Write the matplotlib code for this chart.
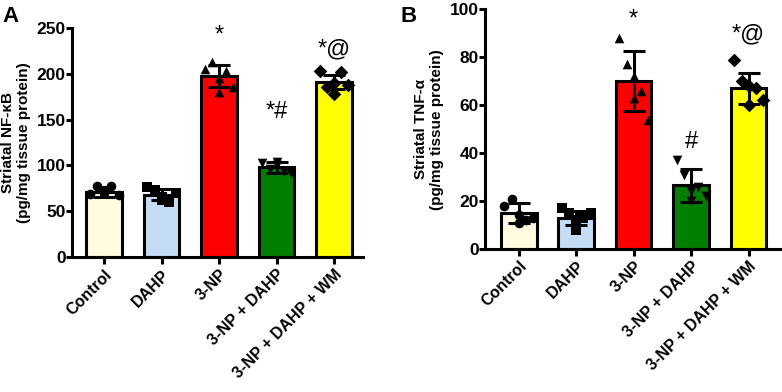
import matplotlib
matplotlib.use("Agg")
import matplotlib.pyplot as plt
import numpy as np

plt.rcParams['font.family'] = ['Liberation Sans', 'DejaVu Sans']

groups = ["Control", "DAHP", "3-NP", "3-NP + DAHP", "3-NP + DAHP + WM"]
colors = ["#FFFCE0", "#C4DDF4", "#FF0000", "#007F00", "#FFFF00"]
markers = ["o", "s", "^", "v", "D"]

# Panel A: NF-kB
nfkb_means = [71, 68, 197, 98, 191]
nfkb_sd = [5, 6, 12, 6, 8]
nfkb_points = [
    [69, 78, 72, 70, 78, 68],
    [77, 73, 62, 66, 60, 70],
    [205, 213, 180, 195, 203, 185],
    [103, 96, 100, 104, 94, 92],
    [203, 185, 190, 178, 202, 188],
]
nfkb_annot = ["", "", "*", "*#", "*@"]

# Panel B: TNF-alpha
tnf_means = [15, 13, 70, 26.5, 67]
tnf_sd = [4, 3, 12.5, 7, 6.5]
tnf_points = [
    [18, 21, 11, 14, 12, 13],
    [17, 15, 8, 12, 13, 15],
    [88, 77, 72, 63, 66, 54],
    [37, 31, 24, 20, 26, 22],
    [79, 70, 68, 60, 67, 62],
]
tnf_annot = ["", "", "*", "#", "*@"]

fig = plt.figure(figsize=(7.82, 3.92), dpi=100)
axA = fig.add_axes([0.092, 0.344, 0.372, 0.585])
axB = fig.add_axes([0.620, 0.365, 0.377, 0.611])

offsets = [-0.25, -0.12, 0.0, 0.0, 0.12, 0.25]

def draw(ax, means, sds, pts, annots, ylim, yticks, ylabel, annot_y, xl):
    x = np.arange(len(groups))
    ax.bar(x, means, width=0.62, color=colors, edgecolor="black", linewidth=2.2, zorder=2)
    for i in x:
        ax.errorbar(i, means[i], yerr=sds[i], fmt="none", ecolor="black",
                    elinewidth=2.2, capsize=8, capthick=2.2, zorder=4)
        ax.scatter(np.array(offsets) + i, pts[i], marker=markers[i], s=48,
                   color="black", zorder=3, linewidths=0)
        if annots[i]:
            ax.text(i, annot_y[i], annots[i], ha="center", va="bottom", fontsize=17)
    ax.set_xlim(*xl)
    ax.set_ylim(*ylim)
    ax.set_yticks(yticks)
    ax.set_xticks(x)
    ax.set_xticklabels(groups, rotation=45, ha="right", rotation_mode="anchor",
                       fontsize=11.5, fontweight="bold")
    for lab in ax.get_yticklabels():
        lab.set_fontsize(12.5)
        lab.set_fontweight("bold")
    ax.set_ylabel(ylabel, fontsize=11, fontweight="bold", linespacing=1.15, labelpad=4)
    for s in ["top", "right"]:
        ax.spines[s].set_visible(False)
    for s in ["left", "bottom"]:
        ax.spines[s].set_linewidth(2.2)
    ax.tick_params(axis="y", width=2.2, length=4, direction="out", pad=0.5)
    ax.tick_params(axis="x", width=2.2, length=5, direction="out", pad=2)

draw(axA, nfkb_means, nfkb_sd, nfkb_points, nfkb_annot, (0, 250),
     [0, 50, 100, 150, 200, 250],
     "Striatal NF-\u03baB\n(pg/mg tissue protein)",
     [0, 0, 230, 146, 214], (-0.56, 4.5))
draw(axB, tnf_means, tnf_sd, tnf_points, tnf_annot, (0, 100),
     [0, 20, 40, 60, 80, 100],
     "Striatal TNF-\u03b1\n(pg/mg tissue protein)",
     [0, 0, 91, 40, 85], (-0.59, 4.54))

fig.text(0.003, 0.985, "A", fontsize=16, fontweight="bold", va="top")
fig.text(0.512, 0.985, "B", fontsize=16, fontweight="bold", va="top")

fig.savefig("out.png", dpi=100)
